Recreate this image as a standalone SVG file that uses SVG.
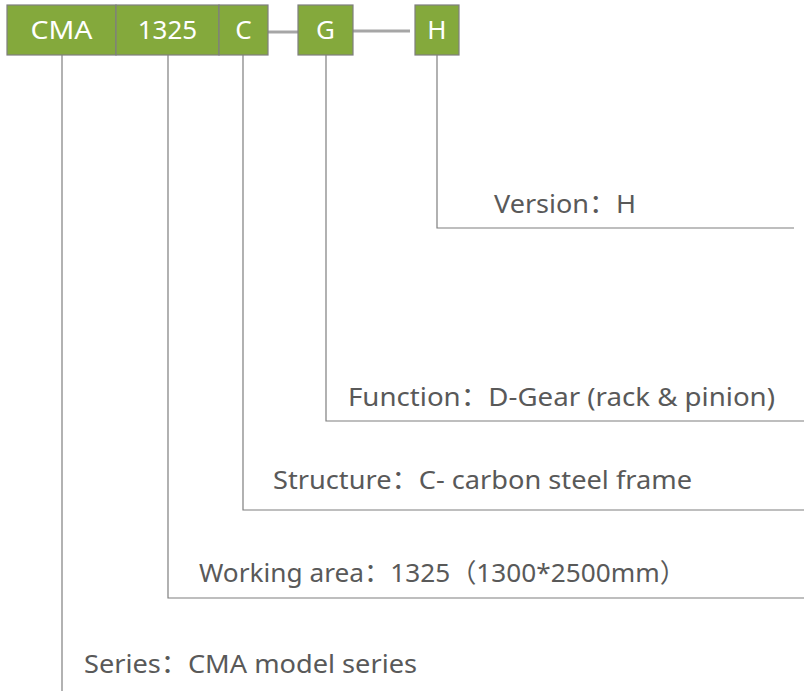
<svg xmlns="http://www.w3.org/2000/svg" width="804" height="691" viewBox="0 0 804 691">
<style>
.box{fill:#84a93c;stroke:#7f7f7f;stroke-width:1.2}
.bt{font-family:"Noto Sans","Noto Sans CJK SC",sans-serif;font-size:26px;fill:#ffffff;text-anchor:middle}
.lbl{font-family:"Noto Sans","Noto Sans CJK SC",sans-serif;font-size:26px;fill:#595959}
.ln{fill:none;stroke:#7f7f7f;stroke-width:1.2}
.ln2{fill:none;stroke:#a6a6a6;stroke-width:3}
</style>
<rect width="804" height="691" fill="#ffffff"/>
<g id="connectors">
<path class="ln2" d="M268,32 H298"/>
<path class="ln2" d="M353,31 H410"/>
<path class="ln" d="M62,55 V691"/>
<path class="ln" d="M168,55 V598 H804"/>
<path class="ln" d="M243,55 V510 H804"/>
<path class="ln" d="M326,55 V421 H804"/>
<path class="ln" d="M437,55 V228 H794"/>
</g>
<g id="node-cma"><rect class="box" x="7" y="5" width="109" height="50"/><text class="bt" x="61.5" y="39" textLength="62" lengthAdjust="spacingAndGlyphs">CMA</text></g>
<g id="node-1325"><rect class="box" x="116" y="5" width="103" height="50"/><text class="bt" x="167.5" y="39">1325</text></g>
<g id="node-c"><rect class="box" x="219" y="5" width="49" height="50"/><text class="bt" x="243.5" y="39">C</text></g>
<g id="node-g"><rect class="box" x="298" y="5" width="55" height="50"/><text class="bt" x="325.5" y="39">G</text></g>
<g id="node-h"><rect class="box" x="415" y="5" width="44" height="50"/><text class="bt" x="437" y="39">H</text></g>
<g id="labels">
<text class="lbl" x="494" y="213" textLength="142" lengthAdjust="spacingAndGlyphs">Version：H</text>
<text class="lbl" x="348" y="406" textLength="427" lengthAdjust="spacingAndGlyphs">Function：D-Gear (rack &amp; pinion)</text>
<text class="lbl" x="273" y="489" textLength="419" lengthAdjust="spacingAndGlyphs">Structure：C- carbon steel frame</text>
<text class="lbl" x="199" y="582" textLength="487" lengthAdjust="spacingAndGlyphs">Working area：1325（1300*2500mm）</text>
<text class="lbl" x="84" y="673" textLength="333" lengthAdjust="spacingAndGlyphs">Series：CMA model series</text>
</g>
</svg>
